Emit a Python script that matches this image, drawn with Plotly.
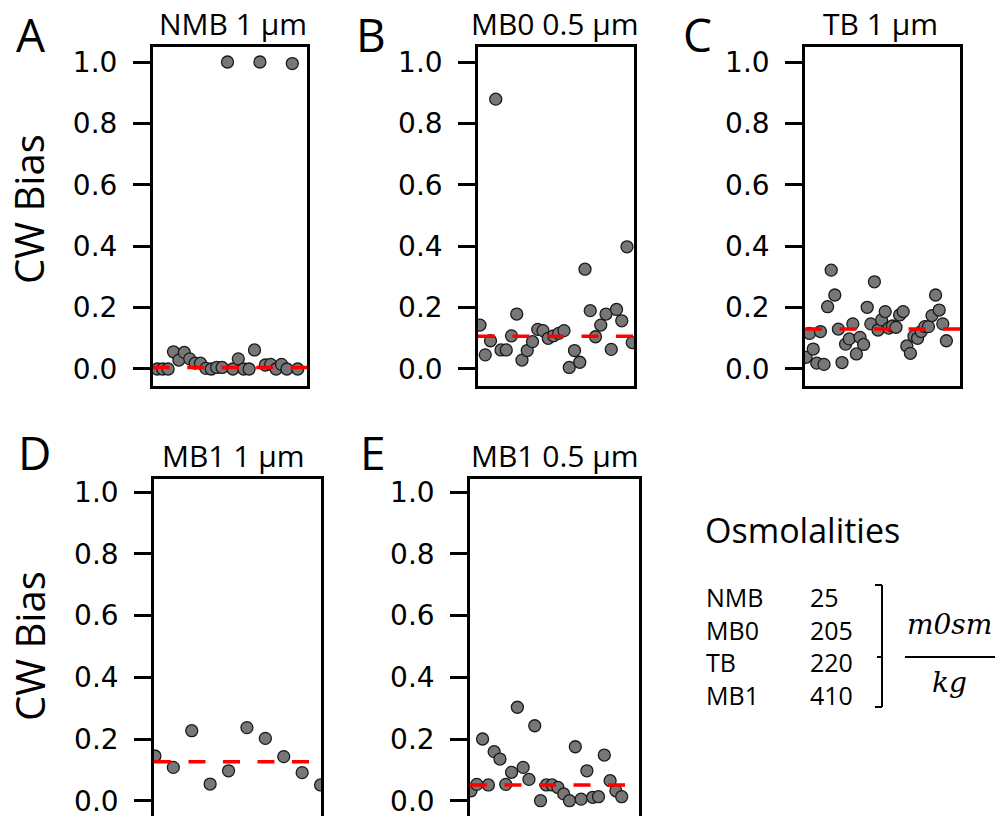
import plotly.graph_objects as go

W, H = 998, 816

# ---------------- data ----------------
panel_letters = ["A", "B", "C", "D", "E"]
panel_titles = ["NMB 1 µm", "MB0 0.5 µm", "TB 1 µm", "MB1 1 µm", "MB1 0.5 µm"]

nmb_1um = [0, 0, 0, 0.056, 0.029, 0.054, 0.033, 0.019, 0.019, 0.002, 0, 0.005, 0.005,
           1.0, 0, 0.033, 0, 0, 0.062, 1.0, 0.013, 0.015, 0, 0.015, 0, 0.995, 0]
mb0_05um = [0.143, 0.046, 0.092, 0.879, 0.062, 0.062, 0.108, 0.179, 0.029, 0.060,
            0.089, 0.129, 0.125, 0.100, 0.108, 0.116, 0.125, 0.005, 0.060, 0.022,
            0.325, 0.190, 0.105, 0.143, 0.179, 0.064, 0.194, 0.157, 0.398, 0.086]
tb_1um = [0.038, 0.116, 0.065, 0.019, 0.122, 0.015, 0.203, 0.322, 0.241, 0.130,
          0.021, 0.081, 0.098, 0.147, 0.049, 0.103, 0.080, 0.201, 0.147, 0.284,
          0.127, 0.160, 0.187, 0.133, 0.140, 0.136, 0.176, 0.187, 0.075, 0.051,
          0.107, 0.100, 0.122, 0.138, 0.138, 0.174, 0.241, 0.192, 0.147, 0.092]
mb1_1um = [0.145, 0.108, 0.227, 0.054, 0.097, 0.237, 0.202, 0.143, 0.091, 0.051]
mb1_05um = [0.032, 0.053, 0.200, 0.051, 0.159, 0.135, 0.053, 0.092, 0.303, 0.108,
            0.069, 0.243, 0.0, 0.051, 0.051, 0.043, 0.022, 0.0, 0.175, 0.005,
            0.097, 0.011, 0.013, 0.148, 0.065, 0.032, 0.013]
series = [nmb_1um, mb0_05um, tb_1um, mb1_1um, mb1_05um]
typical_bias = [0.005, 0.107, 0.130, 0.126, 0.051]

osm_names = ["NMB", "MB0", "TB", "MB1"]
osm_values = [25, 205, 220, 410]
y_ticks = [0.0, 0.2, 0.4, 0.6, 0.8, 1.0]

# ---------------- layout geometry (pixels) ----------------
def fx(px):
    return px / W

def fy(py):
    return 1 - py / H

boxes_x = [(152.7, 307), (478, 634.3), (805, 960), (154, 321.3), (470, 638.5)]
boxes_y = [(47, 386), (47, 386), (47, 386), (479, 816), (479, 816)]
x_ranges = [[-0.85, 27.72], [-0.38, 29.39], [-0.28, 42.78], [-0.05, 9.04], [-0.17, 28.9]]
y_top_range = [-0.0554, 1.0489]
y_bot_range = [-0.0496, 1.0431]

fig = go.Figure()
layout = dict(
    width=W, height=H,
    margin=dict(l=0, r=0, t=0, b=0, autoexpand=False),
    paper_bgcolor="white", plot_bgcolor="white",
    showlegend=False,
)

for i in range(5):
    n = "" if i == 0 else str(i + 1)
    xa, ya = "x" + n, "y" + n
    vals = series[i]
    xs = list(range(len(vals)))
    fig.add_trace(go.Scatter(
        x=xs, y=vals, mode="markers",
        marker=dict(size=12, color="#777777", line=dict(color="#1a1a1a", width=1.3)),
        xaxis=xa, yaxis=ya))
    # typical-bias dashed line (drawn above the points)
    fig.add_trace(go.Scatter(
        x=x_ranges[i], y=[typical_bias[i]] * 2, mode="lines",
        line=dict(color="#ff0000", width=3.5, dash="17px,17.5px"),
        xaxis=xa, yaxis=ya, hoverinfo="skip"))
    x0, x1 = boxes_x[i]
    y0, y1 = boxes_y[i]
    layout["xaxis" + n] = dict(
        domain=[fx(x0), fx(x1)], range=x_ranges[i], anchor=ya, automargin=False,
        showline=True, linecolor="black", linewidth=2.5, mirror=True,
        showticklabels=False, ticks="", showgrid=False, zeroline=False)
    layout["yaxis" + n] = dict(
        domain=[max(0, fy(y1)), fy(y0)], anchor=xa, automargin=False,
        range=y_top_range if i < 3 else y_bot_range,
        showline=True, linecolor="black", linewidth=2.5, mirror=True,
        tickvals=y_ticks, ticktext=[f"{v:.1f}" for v in y_ticks],
        ticks="outside", ticklen=17, tickwidth=2.5, tickcolor="black",
        ticklabelstandoff=10, ticklabeloverflow="allow",
        tickfont=dict(family="DejaVu Sans", size=28, color="black"),
        showgrid=False, zeroline=False)

fig.update_layout(**layout)

ann = []
title_pos = [(233, 23), (555, 23), (880, 23), (233, 455), (555, 455)]
letter_pos = [(31, 34), (371, 34), (697, 34), (34, 452), (373, 452)]
for i in range(5):
    tx, ty = title_pos[i]
    ann.append(dict(x=fx(tx), y=fy(ty), xref="paper", yref="paper", text=panel_titles[i],
                    showarrow=False, xanchor="center", yanchor="middle",
                    font=dict(family="Open Sans", size=30, color="black")))
    lx, ly = letter_pos[i]
    ann.append(dict(x=fx(lx), y=fy(ly), xref="paper", yref="paper", text=panel_letters[i],
                    showarrow=False, xanchor="center", yanchor="middle",
                    font=dict(family="Open Sans", size=46, color="black")))

for cy in (209, 646):
    ann.append(dict(x=fx(29), y=fy(cy), xref="paper", yref="paper", text="CW Bias",
                    textangle=-90, showarrow=False, xanchor="center", yanchor="middle",
                    font=dict(family="Open Sans", size=40, color="black")))

ann.append(dict(x=fx(703), y=fy(530), xref="paper", yref="paper", text="Osmolalities",
                showarrow=False, xanchor="left", yanchor="middle",
                font=dict(family="Open Sans", size=34, color="black")))
row_mid = 646
ann.append(dict(x=fx(704), y=fy(row_mid), xref="paper", yref="paper",
                text="<br>".join(osm_names), align="left",
                showarrow=False, xanchor="left", yanchor="middle",
                font=dict(family="Open Sans", size=25, color="black")))
ann.append(dict(x=fx(808), y=fy(row_mid), xref="paper", yref="paper",
                text="<br>".join(str(v) for v in osm_values), align="left",
                showarrow=False, xanchor="left", yanchor="middle",
                font=dict(family="Open Sans", size=25, color="black")))

ann.append(dict(x=fx(949), y=fy(624), xref="paper", yref="paper", text="<i>m0sm</i>",
                showarrow=False, xanchor="center", yanchor="middle",
                font=dict(family="DejaVu Serif", size=28, color="black")))
ann.append(dict(x=fx(949), y=fy(682), xref="paper", yref="paper", text="<i>kg</i>",
                showarrow=False, xanchor="center", yanchor="middle",
                font=dict(family="DejaVu Serif", size=28, color="black")))

shapes = []
def seg(x0, y0, x1, y1, w=2):
    shapes.append(dict(type="line", xref="paper", yref="paper",
                       x0=fx(x0), y0=fy(y0), x1=fx(x1), y1=fy(y1),
                       line=dict(color="black", width=w)))
seg(882, 585, 882, 707)
seg(875, 585, 882, 585)
seg(875, 707, 882, 707)
seg(877, 657, 882, 657)
seg(905, 657, 995, 657, 2)

fig.update_layout(annotations=ann, shapes=shapes)
fig.write_html("out.html", config={"displayModeBar": False},
               post_script="document.body.style.margin='0px';document.body.style.overflow='hidden';")
